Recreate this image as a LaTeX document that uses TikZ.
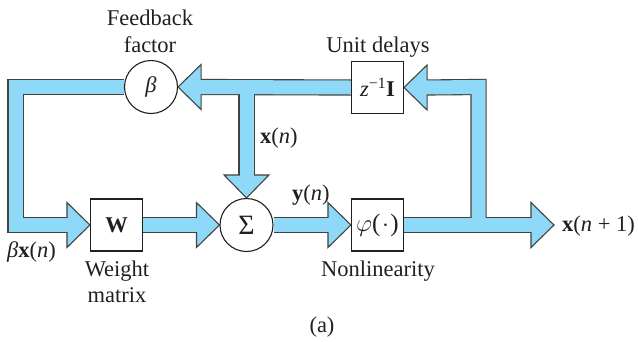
\documentclass[tikz,border=0pt]{standalone}
\usepackage{fontspec}
\setmainfont{Liberation Serif}
\usetikzlibrary{calc}
\definecolor{bandblue}{HTML}{8ED8F8}
\definecolor{ink}{HTML}{231F20}
\newcommand\headright[1]{\filldraw[headshape] (#1) -- ++(-23,-22.5) -- ++(0,45) -- cycle;}
\newcommand\headleft[1]{\filldraw[headshape] (#1) -- ++(23,-22.5) -- ++(0,45) -- cycle;}
\newcommand\headdown[1]{\filldraw[headshape] (#1) -- ++(-22.5,-23) -- ++(45,0) -- cycle;}
\begin{document}
\begin{tikzpicture}[x=1pt,y=-1pt,
  txt/.style={font=\fontsize{22.5}{27}\selectfont, text=ink, inner sep=0pt},
  blockbox/.style={draw=ink, line width=1.1pt, fill=white, minimum width=52pt,
    minimum height=52pt, inner sep=0pt, font=\fontsize{22.5}{27}\selectfont, text=ink},
  sumcirc/.style={circle, draw=ink, line width=1.1pt, fill=white, minimum size=53pt,
    inner sep=0pt, font=\fontsize{22.5}{27}\selectfont, text=ink},
  bandout/.style={draw=ink!85, line width=16.2pt, line join=miter},
  bandin/.style={draw=bandblue, line width=14pt, line join=miter},
  headshape/.style={fill=bandblue, draw=ink!85, line width=1.1pt, line join=miter}
]
\useasboundingbox (0,0) rectangle (638,341);
% corner and junction points of the bands
\coordinate (tl) at (15.5,87);
\coordinate (bl) at (15.5,225);
\coordinate (tj) at (246.5,87);
\coordinate (tr) at (478.5,87);
\coordinate (br) at (478.5,225);
\coordinate (outtip) at (554,225);
% blocks (positions only, drawn later on top)
\path (151,87) coordinate (pbeta) (377.5,87.5) coordinate (pud)
      (116.5,225) coordinate (pW) (246.5,225) coordinate (psum) (377.5,225) coordinate (pphi);
\node[sumcirc, draw=none, fill=none] (beta) at (pbeta) {};
\node[blockbox, draw=none, fill=none] (ud) at (pud) {};
\node[blockbox, draw=none, fill=none] (W) at (pW) {};
\node[sumcirc, draw=none, fill=none] (sum) at (psum) {};
\node[blockbox, draw=none, fill=none] (phi) at (pphi) {};
% dark outline layer of the bands
\draw[bandout] (beta.west) -- (tl) -- (bl) -- ($(W.west)+(-20,0)$);
\draw[bandout] (ud.west) -- ($(beta.east)+(20,0)$);
\draw[bandout] (tj) -- ($(sum.north)+(0,-20)$);
\draw[bandout] (W.east) -- ($(sum.west)+(-20,0)$);
\draw[bandout] (sum.east) -- ($(phi.west)+(-20,0)$);
\draw[bandout] (phi.east) -- ($(outtip)+(-20,0)$);
\draw[bandout] (br) -- (tr) -- ($(ud.east)+(20,0)$);
% arrow heads
\headright{W.west}
\headleft{beta.east}
\headdown{sum.north}
\headright{sum.west}
\headright{phi.west}
\headright{outtip}
\headleft{ud.east}
% light fill layer of the bands
\draw[bandin] (beta.west) -- (tl) -- (bl) -- ($(W.west)+(-20,0)$);
\draw[bandin] (ud.west) -- ($(beta.east)+(20,0)$);
\draw[bandin] (tj) -- ($(sum.north)+(0,-20)$);
\draw[bandin] (W.east) -- ($(sum.west)+(-20,0)$);
\draw[bandin] (sum.east) -- ($(phi.west)+(-20,0)$);
\draw[bandin] (phi.east) -- ($(outtip)+(-20,0)$);
\draw[bandin] (br) -- (tr) -- ($(ud.east)+(20,0)$);
% blocks
\node[sumcirc] at (pbeta) {\textit{β}};
\node[blockbox] at (pud) {\textit{z}\textsuperscript{−1}\textbf{I}};
\node[blockbox] at (pW) {\textbf{W}};
\node[sumcirc] at (psum) {\fontsize{28}{30}\selectfont Σ};
\node[blockbox] at (pphi) {\fontsize{25}{28}\selectfont$\varphi$(\kern1.5pt$\cdot$\kern1.5pt)};
% labels
\node[txt, anchor=base] (fb1) at (150,25) {Feedback};
\node[txt, anchor=base] (fb2) at (150,52) {factor};
\node[txt, anchor=base] (udl) at (378,52) {Unit delays};
\node[txt, anchor=base west] (xn) at (260,143) {\textbf{x}(\textit{n})};
\node[txt, anchor=base west] (yn) at (292,200) {\textbf{y}(\textit{n})};
\node[txt, anchor=base west] (bxn) at (7,257) {\textit{β}\textbf{x}(\textit{n})};
\node[txt, anchor=base west] (xn1) at (562,231) {\textbf{x}(\textit{n} + 1)};
\node[txt, anchor=base] (wm1) at (117,276) {Weight};
\node[txt, anchor=base] (wm2) at (117,302) {matrix};
\node[txt, anchor=base] (nl) at (378,276) {Nonlinearity};
\node[txt, anchor=base] (cap) at (322,332) {(a)};
\end{tikzpicture}
\end{document}
